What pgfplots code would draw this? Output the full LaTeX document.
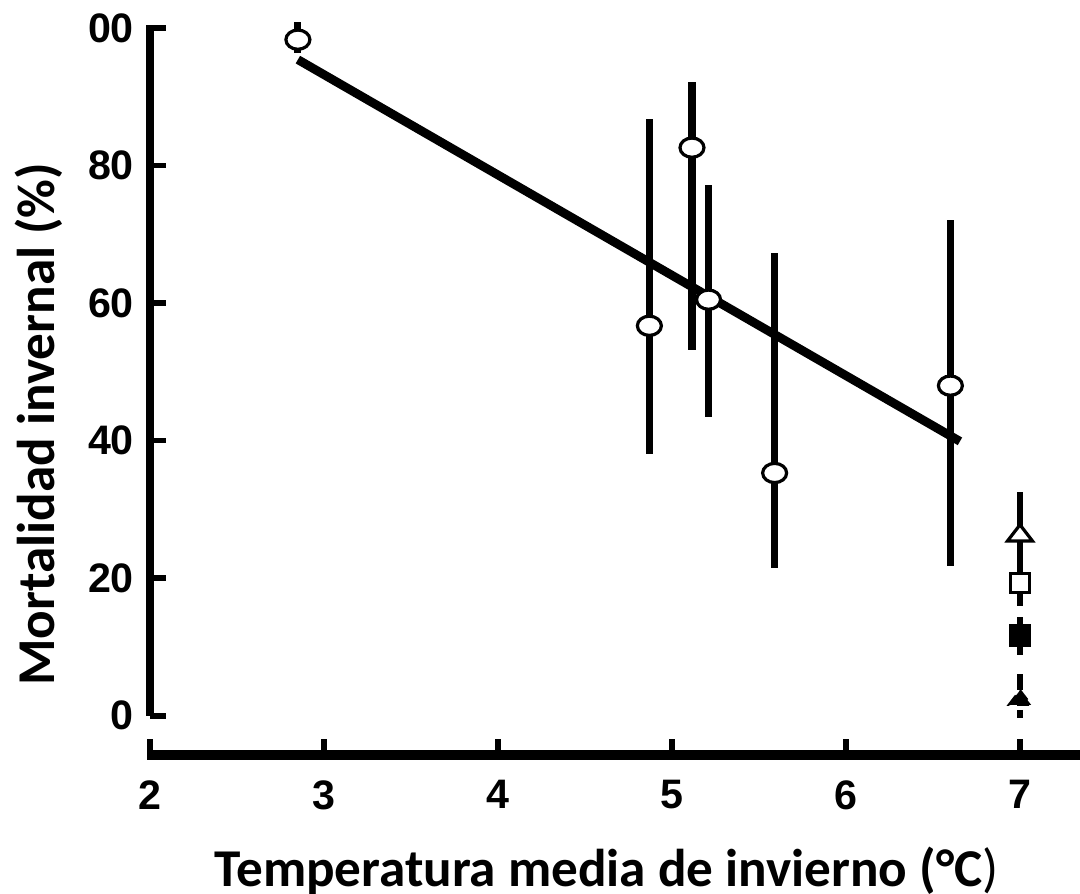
\documentclass[border=0pt]{standalone}
\usepackage{fontspec}
\setmainfont{Carlito}
\newfontfamily\arialfont{Liberation Sans}
\usepackage{pgfplots}
\pgfplotsset{compat=1.18}

\pgfplotstableread{
x     y     ep    em
2.85  98.3  2.6   2.0
4.87  56.7  30.0  18.7
5.115 82.6  9.5   29.4
5.21  60.5  16.7  17.0
5.59  35.3  32.0  13.8
6.60  48.0  24.1  26.2
}\sitios

\begin{document}
\begin{tikzpicture}
\begin{axis}[
  scale only axis,
  width=232.5pt, height=181.75pt,
  xmin=2, xmax=7.345, ymin=-5.7, ymax=100,
  clip=false,
  axis x line=bottom, axis y line=left,
  x axis line style={draw=none,-},
  y axis line style={draw=none,-},
  xtick={2,3,4,5,6,7},
  ytick={0,20,40,60,80,100},
  yticklabels={0,20,40,60,80,00},
  tick align=inside,
  major tick length=4pt,
  tick style={black, line width=1.4pt},
  /pgf/number format/assume math mode=true,
  tick label style={font=\arialfont\bfseries\fontsize{10.3}{11}\selectfont},
  xticklabel style={yshift=-2.8pt},
  yticklabel style={xshift=-0.5pt},
  xlabel={Temperatura media de invierno (°C{\mdseries)}},
  ylabel={Mortalidad invernal (\%)},
  label style={font=\bfseries\fontsize{13.3}{16}\selectfont},
  xlabel style={at={(axis description cs:0.491,-0.1589)}, anchor=center},
  ylabel style={at={(axis description cs:-0.12,0.455)}, anchor=center},
]
% ejes
\draw[line width=2.2pt] (axis cs:2,0) -- (axis cs:2,100.4);
\draw[line width=2.5pt] (axis cs:1.985,-5.7) -- (axis cs:7.345,-5.7);

% recta de regresion
\addplot[black, line width=2.2pt, no marks] coordinates {(2.85,95.4) (6.655,39.9)};

% sitios naturales
\addplot+[only marks, black, mark=*,
  mark size=3pt, mark options={fill=white, line width=0.8pt, yscale=0.8},
  error bars/.cd, y dir=both, y explicit, error mark=none,
  error bar style={line width=1.8pt}]
  table[x=x, y=y, y error plus=ep, y error minus=em] {\sitios};

% tratamientos a 7 grados
\addplot+[only marks, black, mark=triangle*,
  mark size=3.6pt, mark options={fill=white, line width=0.8pt, yscale=0.75},
  error bars/.cd, y dir=both, y explicit, error mark=none,
  error bar style={line width=1.6pt}]
  coordinates {(7.0,26.2) +- (0,6.3)};
\addplot+[only marks, black, mark=square*,
  mark size=2.4pt, mark options={fill=white, line width=0.8pt},
  error bars/.cd, y dir=both, y explicit, error mark=none,
  error bar style={line width=1.6pt}]
  coordinates {(7.0,19.3) +- (0,3.4)};
\addplot+[only marks, black, mark=square*,
  mark size=2.5pt, mark options={fill=black, line width=0.6pt},
  error bars/.cd, y dir=both, y explicit, error mark=none,
  error bar style={line width=1.6pt,
    dash pattern=on 0.75pt off 1.25pt on 5.45pt off 1.25pt on 0.75pt off 20pt}]
  coordinates {(7.0,11.65) +- (0,2.75)};
\addplot+[only marks, black, mark=triangle*,
  mark size=3.2pt, mark options={fill=black, line width=0.6pt, yscale=0.75},
  error bars/.cd, y dir=both, y explicit, error mark=none,
  error bar style={line width=1.6pt,
    dash pattern=on 1.25pt off 1.25pt on 4pt off 3pt on 3.75pt off 20pt}]
  coordinates {(7.0,2.3) -= (0,2.6) += (0,5.1)};
\end{axis}
\pgfresetboundingbox
\path[use as bounding box] ([shift={(-37.5pt,-34.75pt)}]current axis.south west)
  rectangle ([shift={(0pt,7pt)}]current axis.north east);
\end{tikzpicture}
\end{document}
